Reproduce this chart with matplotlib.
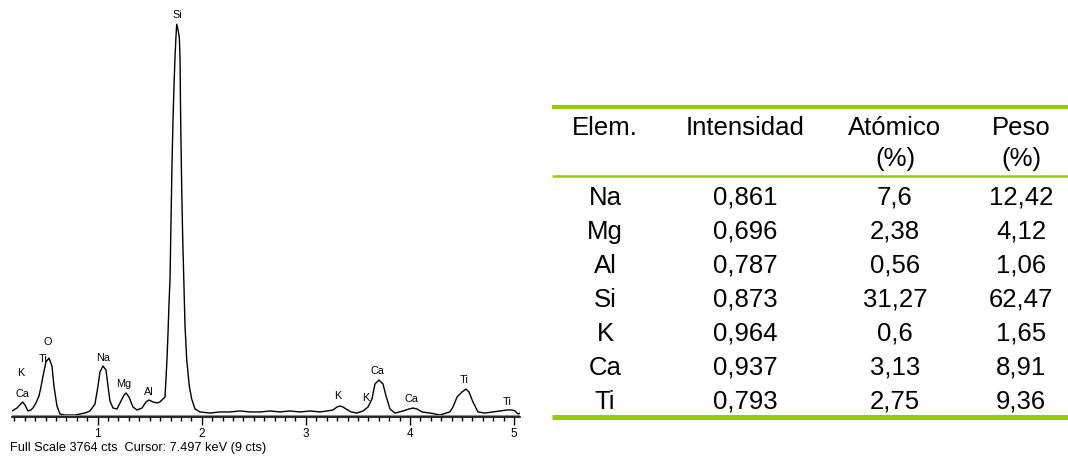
import matplotlib
matplotlib.use('Agg')
import matplotlib.pyplot as plt
from matplotlib.ticker import MultipleLocator


W_PX, H_PX = 1068, 460
DPI        = 100
GREEN      = '#99cc00'
FONT       = ['Liberation Sans', 'DejaVu Sans']

FULL_SCALE = 3764    # cts
CURSOR     = 'Full Scale 3764 cts  Cursor: 7.497 keV (9 cts)'

# EDS spectrum trace [keV] / [cts]
energy_kev = [
    0.177, 0.225, 0.280, 0.302, 0.330, 0.359, 0.378, 0.407, 0.436, 0.455,
    0.475, 0.503, 0.532, 0.561, 0.580, 0.609, 0.638, 0.686, 0.734, 0.782,
    0.830, 0.878, 0.926, 0.974, 1.003, 1.022, 1.051, 1.080, 1.099, 1.118,
    1.147, 1.185, 1.224, 1.253, 1.272, 1.301, 1.339, 1.378, 1.426, 1.464,
    1.493, 1.531, 1.570, 1.598, 1.627, 1.647, 1.656, 1.666, 1.676, 1.685,
    1.695, 1.704, 1.714, 1.724, 1.733, 1.743, 1.752, 1.759, 1.771, 1.784,
    1.791, 1.795, 1.800, 1.807, 1.817, 1.829, 1.839, 1.855, 1.880, 1.903,
    1.935, 1.983, 2.080, 2.175, 2.271, 2.367, 2.463, 2.559, 2.656, 2.751,
    2.847, 2.944, 3.040, 3.136, 3.203, 3.261, 3.299, 3.328, 3.357, 3.386,
    3.434, 3.491, 3.549, 3.597, 3.635, 3.664, 3.702, 3.741, 3.770, 3.808,
    3.856, 3.933, 3.991, 4.030, 4.068, 4.116, 4.193, 4.289, 4.347, 4.384,
    4.413, 4.452, 4.500, 4.538, 4.567, 4.605, 4.653, 4.720, 4.797, 4.865,
    4.932, 4.980, 5.009, 5.038, 5.057,
]
counts = [
    55, 82, 137, 109, 55, 64, 82, 128, 191, 273,
    374, 501, 537, 465, 282, 100, 27, 18, 18, 18,
    27, 36, 55, 118, 282, 410, 465, 428, 282, 146,
    82, 73, 146, 200, 219, 182, 91, 64, 82, 137,
    155, 137, 128, 137, 164, 182, 346, 528, 774, 1029,
    1257, 1758, 2305, 2715, 3015, 3280, 3462, 3580, 3535, 3462,
    3280, 2897, 2533, 2104, 1622, 1193, 829, 528, 282, 164,
    73, 46, 36, 46, 46, 55, 46, 46, 55, 46,
    55, 46, 55, 46, 55, 64, 91, 100, 91, 73,
    46, 36, 55, 91, 164, 301, 337, 301, 191, 73,
    36, 55, 73, 82, 73, 46, 36, 18, 36, 46,
    91, 182, 228, 255, 228, 137, 46, 36, 46, 55,
    64, 64, 55, 27, 36,
]

# peak identification labels
peak_labels = ['Si', 'O', 'Ti', 'K', 'Ca', 'Na', 'Mg', 'Al',
               'K', 'K', 'Ca', 'Ca', 'Ti', 'Ti']
peak_kev    = [1.764, 0.523, 0.475, 0.263, 0.282, 1.051, 1.253, 1.493,
               3.309, 3.578, 3.684, 4.010, 4.519, 4.932]
peak_cts    = [3671, 692, 537, 410, 219, 547, 310, 237,
               200, 182, 428, 173, 346, 146]

# quantification table
header_1  = ['Elem.', 'Intensidad', 'Atómico', 'Peso']
header_2  = ['', '', '(%)', '(%)']
elements  = ['Na', 'Mg', 'Al', 'Si', 'K', 'Ca', 'Ti']
intensity = ['0,861', '0,696', '0,787', '0,873', '0,964', '0,937', '0,793']
atomic    = ['7,6', '2,38', '0,56', '31,27', '0,6', '3,13', '2,75']
weight    = ['12,42', '4,12', '1,06', '62,47', '1,65', '8,91', '9,36']


def draw_spectrum(fig):
    ax = fig.add_axes([12 / W_PX, 42 / H_PX, 508 / W_PX, 413 / H_PX])
    ax.plot(energy_kev, counts, color='black', lw=1.0)

    for lab, e, c in zip(peak_labels, peak_kev, peak_cts):
        ax.text(e, c, lab, ha='center', va='center', fontsize=7.8,
                family=FONT, clip_on=False)

    ax.set_xlim(0.177, 5.057)
    ax.set_ylim(0, FULL_SCALE)
    for side in ('top', 'left', 'right'):
        ax.spines[side].set_visible(False)
    ax.spines['bottom'].set_linewidth(1.2)
    ax.axhline(16, color='0.55', lw=0.8)

    ax.set_yticks([])
    ax.set_xticks([1, 2, 3, 4, 5])
    ax.xaxis.set_minor_locator(MultipleLocator(0.1))
    ax.tick_params(axis='x', which='major', length=5.5, width=1.0, pad=2.0,
                   labelsize=8.5)
    ax.tick_params(axis='x', which='minor', length=3.0, width=1.0)
    for t in ax.get_xticklabels():
        t.set_family(FONT)

    fig.text(10 / W_PX, 1 - 448 / H_PX, CURSOR, fontsize=9.2,
             family=FONT, ha='left', va='center')


def draw_table(fig):
    # pixel-space overlay: x right, y down
    ax = fig.add_axes([0, 0, 1, 1], zorder=-1)
    ax.set_xlim(0, W_PX)
    ax.set_ylim(H_PX, 0)
    ax.axis('off')

    x0, x1 = 552, 1068
    ax.plot([x0, x1], [108, 108], color=GREEN, lw=3.0, solid_capstyle='butt')
    ax.plot([x0, x1], [177, 177], color=GREEN, lw=1.8, solid_capstyle='butt')
    ax.plot([x0, x1], [418, 418], color=GREEN, lw=3.6, solid_capstyle='butt')

    col_x   = [605, 745, 895, 1021]
    fs      = 18.5
    kw      = dict(ha='center', va='baseline', fontsize=fs, family=FONT)

    for cx, h1, h2 in zip(col_x, header_1, header_2):
        ax.text(cx, 135, h1, **kw)
        if h2:
            ax.text(cx, 166, h2, **kw)

    for i, row in enumerate(zip(elements, intensity, atomic, weight)):
        y = 205 + 34 * i
        for cx, val in zip(col_x, row):
            ax.text(cx, y, val, **kw)


def main() -> None:
    fig = plt.figure(figsize=(W_PX / DPI, H_PX / DPI), dpi=DPI)
    fig.patch.set_facecolor('white')
    draw_table(fig)
    draw_spectrum(fig)
    fig.savefig('out.png', dpi=DPI, facecolor='white')


if __name__ == '__main__':
    main()
